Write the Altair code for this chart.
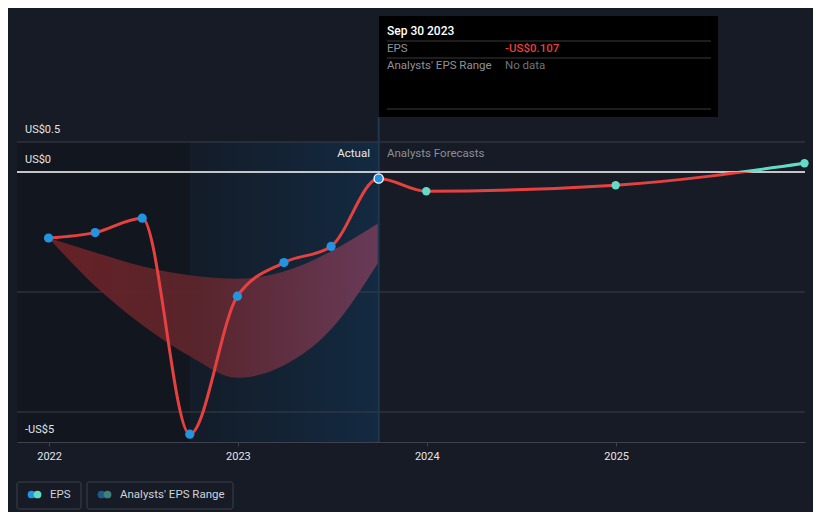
import altair as alt
import pandas as pd

# ---- data ----
actual_dates = ["2021-12-31", "2022-03-31", "2022-06-30", "2022-09-30",
                "2022-12-31", "2023-03-31", "2023-06-30", "2023-09-30"]
actual_eps = [-1.10, -1.01, -0.77, -4.37, -2.07, -1.51, -1.24, -0.107]

forecast_dates = ["2023-12-31", "2024-12-31", "2025-12-31"]
forecast_eps = [-0.32, -0.22, 0.145]

range_high = [-1.10, -1.34, -1.57, -1.72, -1.78, -1.66, -1.32, -0.85]
range_low = [-1.10, -1.90, -2.55, -3.07, -3.43, -3.22, -2.62, -1.50]

grid_vals = [0.5, -2.0, -4.0]
zero_val = [0.0]
y_label_vals = [0.5, 0.0, -4.5]
y_label_text = ["US$0.5", "US$0", "-US$5"]

past_period = ["2021-10-31", "2022-09-30"]
ltm_period = ["2022-09-30", "2023-09-30"]
highlight_date = ["2023-09-30"]

x_domain = ["2021-10-31", "2026-01-01"]
x_ticks = ["2022-01-01", "2023-01-01", "2024-01-01", "2025-01-01"]

tooltip_title = "Sep 30 2023"
tooltip_rows = ["EPS", "Analysts' EPS Range"]
tooltip_vals = ["-US$0.107", "No data"]

# ---- styling ----
BG = "#161b26"
RED = "#e6403f"
BLUE = "#2394df"
TEAL = "#62dcc6"
GRID = "#3a3f4b"
FONT = "Roboto"
W, H = 788, 300


def ms(s):
    return int(pd.Timestamp(s).value // 10**6)


xscale = alt.Scale(type="utc", domain=[ms(d) for d in x_domain])
yscale = alt.Scale(domain=[-4.5, 0.5], nice=False, zero=False)
xaxis = alt.Axis(values=[ms(d) for d in x_ticks], format="%Y", title=None, grid=False,
                 domainColor="#3d424d", tickColor="#3d424d", tickSize=4,
                 labelColor="#e3e5e8", labelFont=FONT, labelFontSize=11, labelPadding=4)

actual_df = pd.DataFrame({"date": actual_dates, "eps": actual_eps})
forecast_df = pd.DataFrame({"date": forecast_dates, "eps": forecast_eps})
line_df = pd.concat([actual_df, forecast_df], ignore_index=True)
range_df = pd.DataFrame({"date": actual_dates, "low": range_low, "high": range_high})
grid_df = pd.DataFrame({"v": grid_vals})
zero_df = pd.DataFrame({"v": zero_val})
ylab_df = pd.DataFrame({"v": y_label_vals, "t": y_label_text})
past_df = pd.DataFrame({"s": [past_period[0]], "e": [past_period[1]]})
ltm_df = pd.DataFrame({"s": [ltm_period[0]], "e": [ltm_period[1]]})
hover_df = pd.DataFrame({"date": highlight_date})
one = pd.DataFrame({"k": [0]})


def X(f):
    return alt.X(f, type="temporal", scale=xscale, axis=xaxis)


def Y(f):
    return alt.Y(f, type="quantitative", scale=yscale, axis=None)


# background periods
past_rect = alt.Chart(past_df).mark_rect(color="#12161e").encode(
    x=X("s"), x2="e:T", y=alt.value(0), y2=alt.value(H))

ltm_rect = alt.Chart(ltm_df).mark_rect(
    fill=alt.LinearGradient(gradient="linear", x1=0, y1=0, x2=1, y2=0,
                            stops=[alt.GradientStop(offset=0, color="#131c28"),
                                   alt.GradientStop(offset=1, color="#132a41")])
).encode(x=X("s"), x2="e:T", y=alt.value(0), y2=alt.value(H))

grid = alt.Chart(grid_df).mark_rule(color=GRID, strokeWidth=1).encode(y=Y("v"))

area = alt.Chart(range_df).mark_area(
    interpolate="monotone",
    fill=alt.LinearGradient(gradient="linear", x1=0, y1=0, x2=1, y2=0,
                            stops=[alt.GradientStop(offset=0, color="#6a2226"),
                                   alt.GradientStop(offset=0.45, color="#5c252c"),
                                   alt.GradientStop(offset=1, color="#6c3b58")]),
    fillOpacity=0.95
).encode(x=X("date"), y=Y("low"), y2="high:Q")

hover = alt.Chart(hover_df).mark_rule(color="#1d3850", strokeWidth=2).encode(
    x=X("date"), y=alt.value(-25), y2=alt.value(H))

zero = alt.Chart(zero_df).mark_rule(color="#ffffff", strokeWidth=1.3).encode(y=Y("v"))

top = max(line_df.eps)
bot = min(line_df.eps)
off = top / (top - bot)
line = alt.Chart(line_df).mark_line(
    interpolate="monotone", strokeWidth=3,
    stroke=alt.LinearGradient(gradient="linear", x1=0, y1=0, x2=0, y2=1,
                              stops=[alt.GradientStop(offset=0, color=TEAL),
                                     alt.GradientStop(offset=off, color=TEAL),
                                     alt.GradientStop(offset=off, color=RED),
                                     alt.GradientStop(offset=1, color=RED)])
).encode(x=X("date"), y=Y("eps"))

pts_actual = alt.Chart(actual_df.iloc[:-1]).mark_circle(color=BLUE, size=85, opacity=1).encode(
    x=X("date"), y=Y("eps"))
pts_last = alt.Chart(actual_df.iloc[-1:]).mark_point(
    filled=True, fill=BLUE, stroke="#ffffff", strokeWidth=1.3, size=85, opacity=1, shape="circle"
).encode(x=X("date"), y=Y("eps"))
pts_fc = alt.Chart(forecast_df).mark_circle(color=TEAL, size=70, opacity=1).encode(
    x=X("date"), y=Y("eps"))

ylabels = alt.Chart(ylab_df).mark_text(
    align="left", baseline="middle", dy=-12, font=FONT, fontSize=11, color="#e3e5e8"
).encode(x=alt.value(8), y=Y("v"), text="t:N")

actual_lbl = alt.Chart(one).mark_text(align="right", baseline="middle", font=FONT, fontSize=11.5,
                                      color="#e8eaee").encode(
    x=alt.value(353), y=alt.value(12), text=alt.value("Actual"))
fc_lbl = alt.Chart(one).mark_text(align="left", baseline="middle", font=FONT, fontSize=11.5,
                                  color="#8a8f98").encode(
    x=alt.value(370), y=alt.value(12), text=alt.value("Analysts Forecasts"))

# tooltip box
tip_box = alt.Chart(one).mark_rect(color="#000000").encode(
    x=alt.value(362), x2=alt.value(701), y=alt.value(-126), y2=alt.value(-25))
tip_lines = [alt.Chart(one).mark_rule(color="#3a3a3a", strokeWidth=1).encode(
    x=alt.value(370), x2=alt.value(694), y=alt.value(yy)) for yy in (-101, -84, -33)]
tip_title = alt.Chart(one).mark_text(align="left", baseline="middle", font=FONT, fontSize=12,
                                     fontWeight=500, color="#ffffff").encode(
    x=alt.value(370), y=alt.value(-111), text=alt.value(tooltip_title))
tip_texts = []
for i, (lab, val) in enumerate(zip(tooltip_rows, tooltip_vals)):
    yy = -93 + 17 * i
    tip_texts.append(alt.Chart(one).mark_text(align="left", baseline="middle", font=FONT, fontSize=11.5,
                                              color="#8e939b").encode(
        x=alt.value(370), y=alt.value(yy), text=alt.value(lab)))
    tip_texts.append(alt.Chart(one).mark_text(
        align="left", baseline="middle", font=FONT, fontSize=11.5,
        fontWeight=500 if i == 0 else 400,
        color=RED if i == 0 else "#6f747c").encode(
        x=alt.value(488), y=alt.value(yy), text=alt.value(val)))

# legend
leg = []
for (x0, x1, c1, c2, lab) in [(0, 64, BLUE, TEAL, "EPS"),
                              (70, 216, "#1d5a8a", "#3f807c", "Analysts' EPS Range")]:
    leg.append(alt.Chart(one).mark_rect(fill="transparent", stroke="#3b404a", strokeWidth=1,
                                        cornerRadius=2).encode(
        x=alt.value(x0), x2=alt.value(x1), y=alt.value(340), y2=alt.value(367)))
    leg.append(alt.Chart(one).mark_circle(color=c1, size=60, opacity=1).encode(
        x=alt.value(x0 + 14.5), y=alt.value(352.5)))
    leg.append(alt.Chart(one).mark_circle(color=c2, size=60, opacity=1).encode(
        x=alt.value(x0 + 20.5), y=alt.value(352.5)))
    leg.append(alt.Chart(one).mark_text(align="left", baseline="middle", font=FONT, fontSize=11.5,
                                        color="#cfd3da").encode(
        x=alt.value(x0 + 33), y=alt.value(353), text=alt.value(lab)))

chart = alt.layer(
    past_rect, ltm_rect, grid, area, hover, zero, line, pts_actual, pts_last, pts_fc,
    ylabels, actual_lbl, fc_lbl, tip_box, *tip_lines, tip_title, *tip_texts, *leg
).properties(
    width=W, height=H,
    padding={"left": 9, "top": 134, "right": 8, "bottom": 70},
    autosize=alt.AutoSizeParams(type="none"),
    background=BG,
).configure_view(stroke=None)

chart.save("out.html", embed_options={"renderer": "svg", "actions": False})
